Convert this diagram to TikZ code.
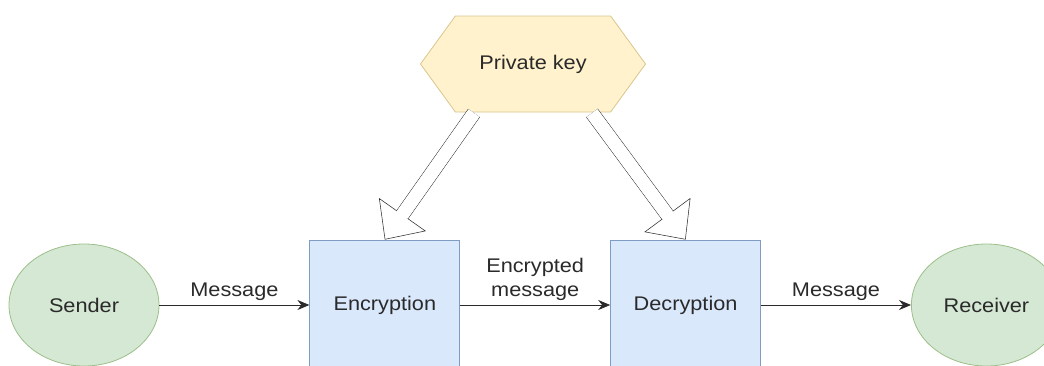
\documentclass[tikz,border=0pt]{standalone}
\usepackage{fontspec}
\setmainfont{Liberation Sans}[FakeStretch=1.1]
\usetikzlibrary{arrows.meta,positioning,shapes.geometric,shapes.symbols}

\definecolor{partyfill}{HTML}{D5E8D4}
\definecolor{partyline}{HTML}{9CBF8A}
\definecolor{boxfill}{HTML}{DAE8FC}
\definecolor{boxline}{HTML}{7F9CC4}
\definecolor{keyfill}{HTML}{FFF2CC}
\definecolor{keyline}{HTML}{D9C58E}
\definecolor{ink}{HTML}{2A2A2A}

\begin{document}
\begin{tikzpicture}[
    x = 0.75pt, y = -0.75pt, % one unit = one pixel of the reference
    > = {Stealth[length=9pt,width=7.5pt]}, % arrow head style
    node distance = 112.5pt, % gap between the boxes
    font = \fontsize{14.8}{18}\selectfont,
    text = ink,
    semithick % line style
    ]

    \tikzset{
    party/.style = {ellipse, draw = partyline, fill = partyfill,
        minimum width = 112.5pt, minimum height = 91.5pt},
    cryptbox/.style = {rectangle, draw = boxline, fill = boxfill,
        minimum width = 112.5pt, minimum height = 97.5pt},
    keynode/.style = {signal, signal to = west and east,
        signal pointer angle = 108, draw = keyline, fill = keyfill,
        minimum width = 168.75pt, minimum height = 72pt, inner sep = 0pt},
    hollow/.style = {draw = ink, thin, double = white,
        double distance = 10pt, -{Triangle[open, length=23pt, width=43pt]}},
    hollowgap/.style = {draw = white, line width = 9.6pt,
        shorten > = 19pt, shorten < = 2pt},
    flow/.style = {->, draw = ink}
    }

    \useasboundingbox (0,0) rectangle (1044,365);

    \node[party] (sender) at (84,305) {Sender};
    \node[cryptbox] (enc) [right=of sender] {Encryption};
    \node[cryptbox] (dec) [right=of enc] {Decryption};
    \node[party] (receiver) [right=of dec] {Receiver};
    \node[keynode] (key) at (533,64) {Private key};

    \coordinate (keyL) at (474,113);
    \coordinate (keyR) at (592,113);

    % key arrows: outline first, then open the base of the head
    \draw[hollow] (keyL) -- (enc.north);
    \draw[hollow] (keyR) -- (dec.north);
    \draw[hollowgap] (keyL) -- (enc.north);
    \draw[hollowgap] (keyR) -- (dec.north);

    \draw[flow] (sender) -- node[above]{Message} (enc);
    \draw[flow] (enc) -- node[above, align=center]{Encrypted\\message} (dec);
    \draw[flow] (dec) -- node[above]{Message} (receiver);
\end{tikzpicture}
\end{document}
